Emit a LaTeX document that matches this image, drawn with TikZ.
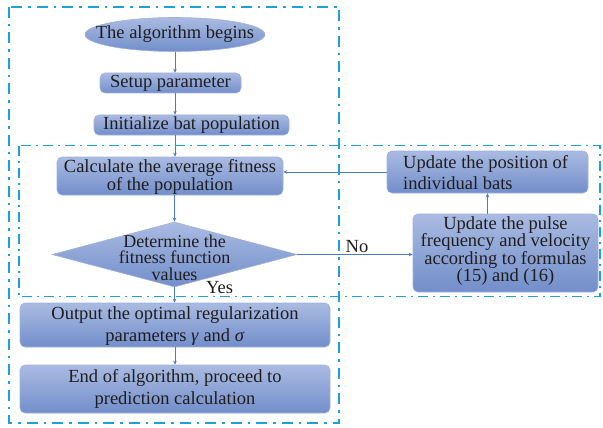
\documentclass[tikz,border=0pt]{standalone}
\usepackage{fontspec}
\setmainfont{Liberation Serif}
\usetikzlibrary{shapes.geometric,arrows.meta}
\definecolor{framec}{RGB}{30,160,220}
\definecolor{boxtop}{RGB}{170,187,226}
\definecolor{boxbot}{RGB}{114,142,202}
\definecolor{boxline}{RGB}{160,178,220}
\definecolor{arrowc}{RGB}{74,123,200}
\definecolor{txt}{RGB}{30,30,30}
\begin{document}
\begin{tikzpicture}[x=1pt,y=-1pt,
  fillgrad/.style={top color=boxtop, bottom color=boxbot, draw=boxline, line width=0.6pt},
  stepbox/.style={fillgrad, rectangle, rounded corners=5pt, inner sep=0pt},
  txtnode/.style={inner sep=0pt, text=txt, align=center},
  flowarrow/.style={draw=arrowc, line width=0.8pt, -{Stealth[length=4pt,width=3.5pt]}},
  outerframe/.style={draw=framec, line width=2.6pt, dash pattern=on 11pt off 6pt on 2.5pt off 6pt},
  innerframe/.style={draw=framec, line width=1.5pt, dash pattern=on 10pt off 5pt on 2pt off 5pt}
]
\useasboundingbox (0,0) rectangle (603,428);

% nodes
\node[fillgrad, ellipse, inner sep=0pt, minimum width=180pt, minimum height=34pt] (start) at (175,34.5) {};
\node[txtnode, font=\fontsize{18.5}{18.5}\selectfont] (startt) at (start.center) {The algorithm begins};

\node[stepbox, minimum width=141pt, minimum height=20pt] (setup) at (170.5,83) {};
\node[txtnode, font=\fontsize{18.5}{18.5}\selectfont] (setupt) at (setup.center) {Setup parameter};

\node[stepbox, minimum width=195pt, minimum height=20pt] (init) at (191.5,125) {};
\node[txtnode, font=\fontsize{18.5}{18.5}\selectfont] (initt) at (init.center) {Initialize bat population};

\node[stepbox, minimum width=226pt, minimum height=38pt] (calc) at (170,176) {};
\node[txtnode, font=\fontsize{18.5}{18}\selectfont] (calct) at ([yshift=-1pt]calc.center) {Calculate the average fitness\\of the population};

\node[fillgrad, diamond, inner sep=0pt, minimum width=245pt, minimum height=65pt] (dec) at (174.5,254.5) {};
\node[txtnode, font=\fontsize{18}{16.5}\selectfont] (dect) at (174.5,257.5) {Determine the\\fitness function\\values};

\node[stepbox, minimum width=201pt, minimum height=42pt] (pos) at (487.5,172) {};
\node[txtnode, align=left, anchor=west, font=\fontsize{18.5}{21}\selectfont] (post) at (403,172.5) {Update the position of\\individual bats};

\node[stepbox, minimum width=185pt, minimum height=78pt] (pulse) at (505.5,253) {};
\node[txtnode, font=\fontsize{18.5}{17.3}\selectfont] (pulset) at (505.5,251) {Update the pulse\\frequency and velocity\\according to formulas\\(15) and (16)};

\node[stepbox, minimum width=310pt, minimum height=44pt] (out) at (175,325) {};
\node[txtnode, font=\fontsize{18.5}{21.5}\selectfont] (outt) at (175,326) {Output the optimal regularization\\parameters \textit{γ} and \textit{σ}};

\node[stepbox, minimum width=310pt, minimum height=48pt] (fin) at (175,389) {};
\node[txtnode, font=\fontsize{18.5}{21.5}\selectfont] (fint) at (175,389) {End of algorithm, proceed to\\prediction calculation};

\node[txtnode, font=\fontsize{18.5}{18.5}\selectfont] (yes) at (219.5,288) {Yes};
\node[txtnode, font=\fontsize{18.5}{18.5}\selectfont] (no) at (357,247) {No};

% connectors
\draw[flowarrow] (start.south) -- (start.south |- setup.north);
\draw[flowarrow] (setup.south -| start.south) -- (init.north -| start.south);
\draw[flowarrow] (init.south -| start.south) -- (calc.north -| start.south);
\draw[flowarrow] (calc.south -| dec.north) -- (dec.north);
\draw[flowarrow] (dec.south) -- (out.north -| dec.south);
\draw[flowarrow] (out.south) -- (fin.north);
\draw[flowarrow] (dec.east) -- (dec.east -| pulse.west);
\draw[flowarrow] (pos.south |- pulse.north) -- (pos.south);
\draw[flowarrow] (pos.west) -- (pos.west -| calc.east);

% frames
\draw[outerframe] (9,7) rectangle (339,423);
\draw[innerframe] (19,145.5) rectangle (600,296.5);
\end{tikzpicture}
\end{document}
